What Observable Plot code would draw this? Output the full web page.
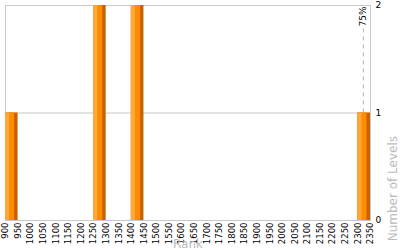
<!DOCTYPE html>
<html><head><meta charset="utf-8">
<script src="https://cdn.jsdelivr.net/npm/d3@7"></script>
<script src="https://cdn.jsdelivr.net/npm/@observablehq/plot@0.6"></script>
<style>body{margin:0;background:#fff}</style>
</head><body><div id="chart"></div>
<script>
const binStarts = [900, 1250, 1400, 2300];
const binWidth = 50;
const levelCounts = [1, 2, 2, 1];
const xTicks = d3.range(900, 2351, 50);
const yTicks = [0, 1, 2];
const percentile75 = 2322;
const percentileLabel = "75%";
const xLabel = "Rank";
const yLabel = "Number of Levels";

const bars = binStarts.map((s, i) => ({x1: s, x2: s + binWidth, y: levelCounts[i]}));

const chart = Plot.plot({
  width: 400, height: 250,
  marginLeft: 5, marginRight: 30, marginTop: 5, marginBottom: 30,
  style: {fontFamily: "DejaVu Sans", fontSize: "9px", color: "#000", background: "#fff"},
  x: {domain: [900, 2350]},
  y: {domain: [0, 2]},
  marks: [
    Plot.gridY(yTicks, {stroke: "#c8c8c8", strokeOpacity: 1}),
    Plot.frame({stroke: "#c8c8c8"}),
    Plot.rectY(bars, {x1: "x1", x2: "x2", y: "y", fill: "#c86400"}),
    Plot.rectY(bars, {x1: "x1", x2: "x2", y: "y", fill: "#ff8c00", insetRight: 3.5}),
    Plot.rectY(bars, {x1: "x1", x2: "x2", y: "y", fill: "#ffa838", insetRight: 8.5}),
    Plot.ruleX([percentile75], {y1: 1, y2: 1.79, stroke: "#b4b4b4", strokeDasharray: "4,4"}),
    Plot.text([percentileLabel], {x: percentile75, y: 2, rotate: -90, textAnchor: "end", dy: 1, fontSize: 9, fill: "#000"}),
    Plot.axisX({ticks: xTicks, tickFormat: d => String(d), tickSize: 0, tickPadding: 2, tickRotate: -90, label: null, fontSize: 8.5}),
    Plot.axisY({anchor: "right", ticks: yTicks, tickFormat: d => String(d), tickSize: 0, tickPadding: 5, label: null, textAnchor: "start"}),
    Plot.text([xLabel], {frameAnchor: "bottom", dy: 27, fill: "#bbb", fontSize: 12}),
    Plot.text([yLabel], {frameAnchor: "right", dx: 23, dy: 23, rotate: -90, fill: "#bbb", fontSize: 12})
  ]
});
document.getElementById("chart").appendChild(chart);
</script></body></html>
